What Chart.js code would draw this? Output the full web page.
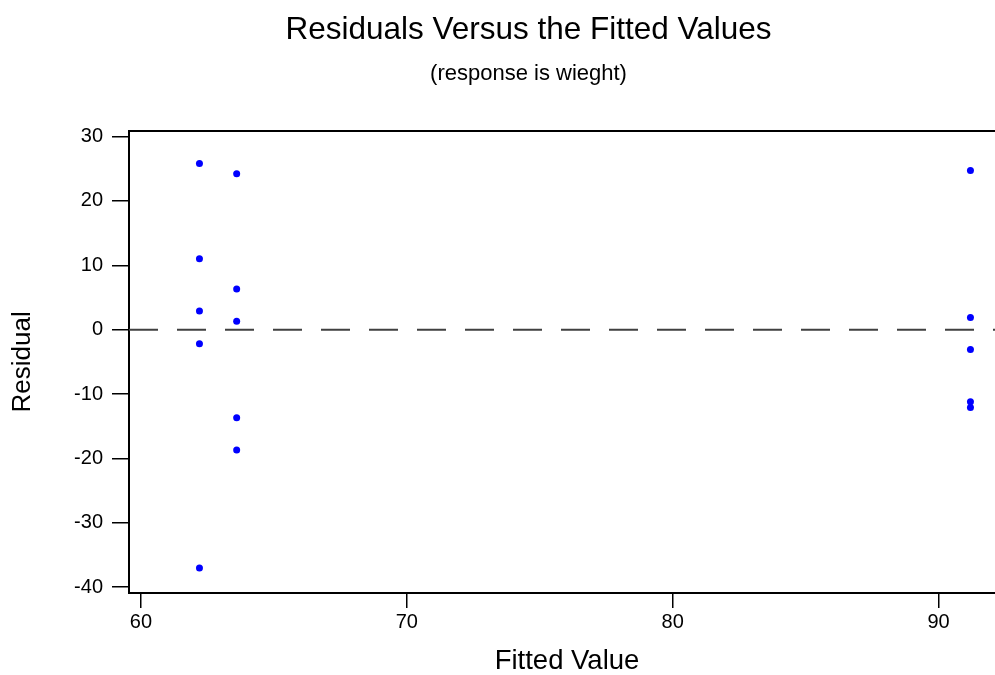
<!DOCTYPE html>
<html>
<head>
<meta charset="utf-8">
<script src="https://cdn.jsdelivr.net/npm/chart.js@4.4.0/dist/chart.umd.min.js"></script>
<style>
    html, body { margin: 0; padding: 0; background: #fff; overflow: hidden; }
    .wrap { width: 1010px; height: 675px; position: relative; }
</style>
</head>
<body>
<div class="wrap"><canvas id="residChart"></canvas></div>
<script>
// fitted value groups and residuals
const fittedA = [62.2, 62.2, 62.2, 62.2, 62.2];
const residA = [25.8, 11.0, 2.9, -2.2, -37.0];
const fittedB = [63.6, 63.6, 63.6, 63.6, 63.6];
const residB = [24.2, 6.3, 1.3, -13.7, -18.7];
const fittedC = [91.2, 91.2, 91.2, 91.2, 91.2];
const residC = [24.7, 1.9, -3.1, -11.2, -12.1];

const xTicks = [60, 70, 80, 90];
const yTicks = [-40, -30, -20, -10, 0, 10, 20, 30];
const xRange = [59.55, 92.5];
const yRange = [-40.9, 30.9];

const toPoints = (xs, ys) => xs.map((x, i) => ({ x: x, y: ys[i] }));
const allPoints = [].concat(
    toPoints(fittedA, residA),
    toPoints(fittedB, residB),
    toPoints(fittedC, residC)
);

const font = 'Liberation Sans, Arial, sans-serif';

document.addEventListener('DOMContentLoaded', () => {
    const ctx = document.getElementById('residChart');
    new Chart(ctx.getContext('2d'), {
        type: 'scatter',
        data: {
            datasets: [
                {
                    label: 'Residual',
                    data: allPoints,
                    backgroundColor: '#0000ff',
                    borderColor: '#0000ff',
                    pointStyle: 'circle',
                    pointRadius: 3.5,
                    borderWidth: 0
                },
                {
                    label: 'zero',
                    type: 'line',
                    data: [{ x: xRange[0], y: 0 }, { x: xRange[1], y: 0 }],
                    borderColor: '#404040',
                    borderWidth: 2,
                    borderDash: [29, 19],
                    pointRadius: 0,
                    fill: false
                }
            ]
        },
        options: {
            responsive: true,
            maintainAspectRatio: false,
            animation: false,
            // left padding pushes the titles right, like in the original
            layout: {
                padding: { left: 52, right: 5, top: 0, bottom: 0 }
            },
            plugins: {
                legend: { display: false },
                tooltip: { enabled: false },
                title: {
                    display: true,
                    text: 'Residuals Versus the Fitted Values',
                    color: '#000',
                    font: { family: font, size: 31.5, weight: 'normal' },
                    padding: { top: 11, bottom: 5 }
                },
                subtitle: {
                    display: true,
                    text: '(response is wieght)',
                    color: '#000',
                    font: { family: font, size: 22, weight: 'normal' },
                    padding: { top: 7, bottom: 0 }
                }
            },
            scales: {
                x: {
                    type: 'linear',
                    position: 'bottom',
                    min: xRange[0],
                    max: xRange[1],
                    afterBuildTicks: axis => { axis.ticks = xTicks.map(v => ({ value: v })); },
                    afterFit: axis => { axis.height = 82; },
                    grid: {
                        display: true,
                        drawOnChartArea: false,
                        drawTicks: true,
                        tickLength: 15,
                        color: '#000',
                        lineWidth: 1.5
                    },
                    border: { display: true, color: '#000', width: 2 },
                    ticks: {
                        color: '#000',
                        padding: 2,
                        maxRotation: 0,
                        font: { family: font, size: 20 }
                    },
                    title: {
                        display: true,
                        text: 'Fitted Value',
                        color: '#000',
                        font: { family: font, size: 27.5, lineHeight: 1 },
                        padding: { top: 0, bottom: 0 }
                    }
                },
                xTop: {
                    type: 'linear',
                    position: 'top',
                    min: xRange[0],
                    max: xRange[1],
                    afterFit: axis => { axis.height = 43.5; },
                    grid: { display: false },
                    border: { display: true, color: '#000', width: 2 },
                    ticks: { display: false }
                },
                y: {
                    type: 'linear',
                    min: yRange[0],
                    max: yRange[1],
                    afterBuildTicks: axis => { axis.ticks = yTicks.map(v => ({ value: v })); },
                    afterFit: axis => { axis.width = 77; },
                    grid: {
                        display: true,
                        drawOnChartArea: false,
                        drawTicks: true,
                        tickLength: 17,
                        color: '#000',
                        lineWidth: 1.5
                    },
                    border: { display: true, color: '#000', width: 2 },
                    ticks: {
                        color: '#000',
                        padding: 9,
                        font: { family: font, size: 20 }
                    },
                    title: {
                        display: true,
                        text: 'Residual',
                        color: '#000',
                        font: { family: font, size: 26 },
                        padding: { top: -45, bottom: 0 }
                    }
                }
            }
        }
    });
});
</script>
</body>
</html>
